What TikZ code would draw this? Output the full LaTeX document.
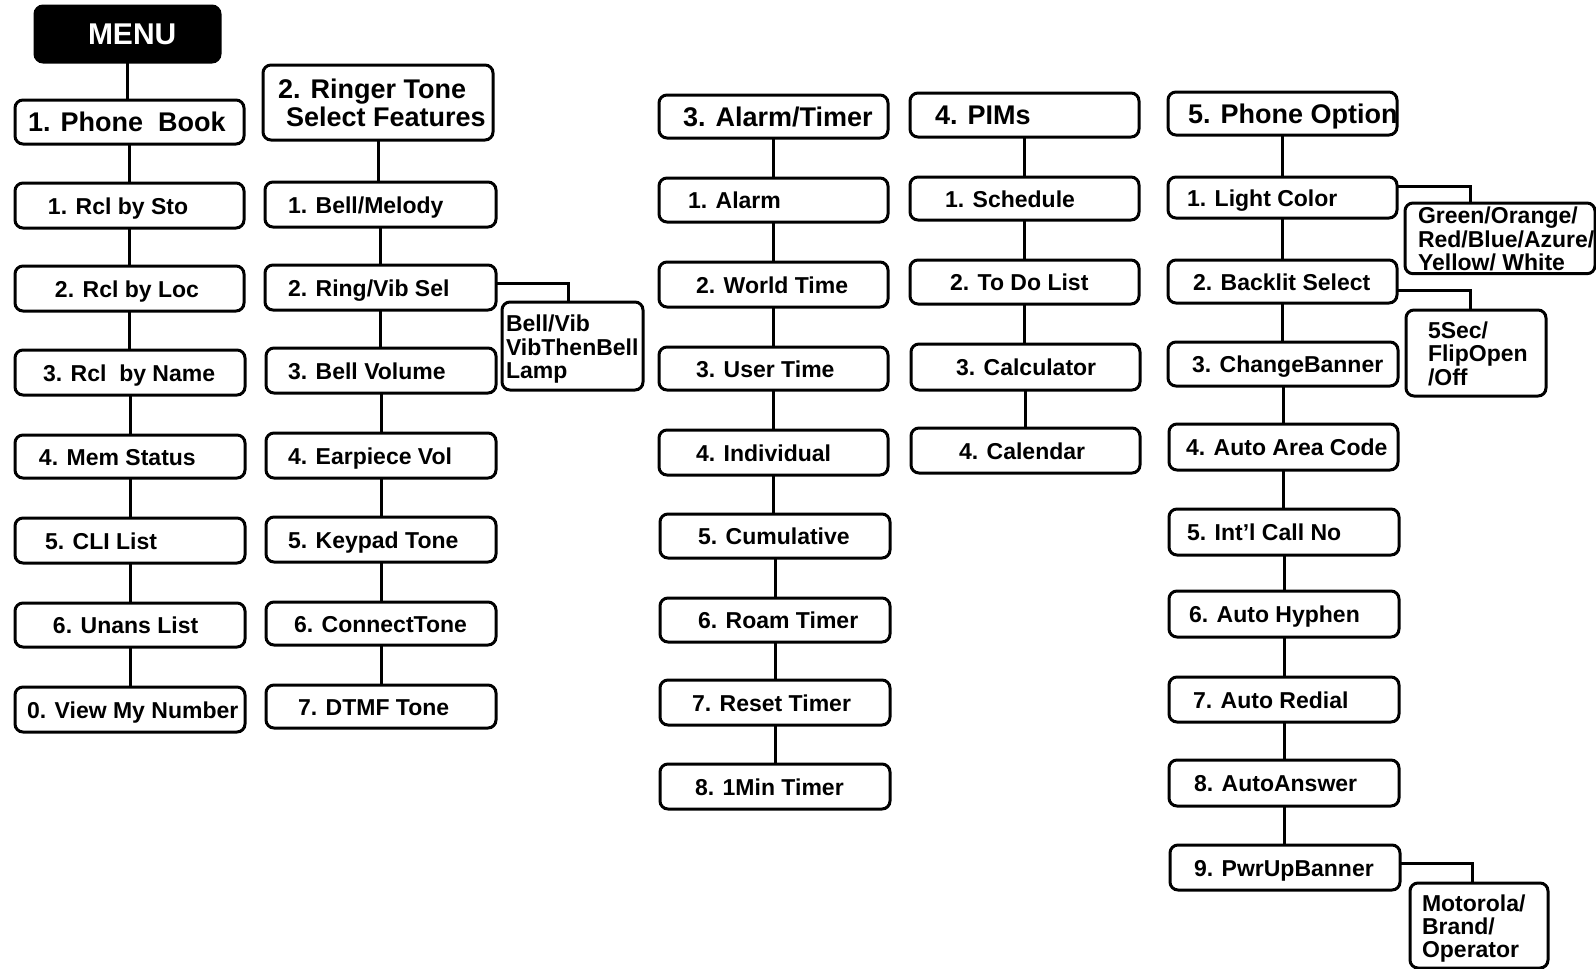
\documentclass[tikz,border=0pt]{standalone}
\usepackage{fontspec}
\setmainfont{Liberation Sans}
\tikzset{
  boxbase/.style={draw, line width=1.5pt, rounded corners=4pt, inner sep=0pt, outer sep=0pt},
  hdr/.style={boxbase, font=\fontsize{13.5}{14}\selectfont\bfseries},
  itm/.style={boxbase, font=\fontsize{11.5}{12}\selectfont\bfseries},
  side/.style={boxbase, font=\fontsize{11.5}{11.5}\selectfont\bfseries},
  menubox/.style={boxbase, fill=black, text=white, font=\fontsize{15}{16}\selectfont\bfseries},
  conn/.style={line width=1.5pt},
}
% #1 style, #2 name, #3 x1, #4 y1, #5 x2, #6 y2, #7 text offset (px), #8 text
\newcommand\mbx[8]{%
  \pgfmathsetmacro\mbxw{(#5-#3)*0.5}%
  \pgfmathsetmacro\mbxh{(#6-#4)*0.5}%
  \pgfmathsetmacro\mbxo{#7*0.5}%
  \node[#1, anchor=north west, minimum width=\mbxw pt, minimum height=\mbxh pt]
    (#2) at (#3,#4) {\makebox[\mbxw pt][l]{\hspace*{\mbxo pt}\raisebox{-2pt}[\height][\depth]{\begin{tabular}{@{}l@{}}#8\end{tabular}}}};%
}
\begin{document}
\begin{tikzpicture}[x=0.5pt, y=-0.5pt]
\useasboundingbox (0,0) rectangle (1596,969);
% column 1
\mbx{menubox}{menu}{35}{6}{220}{62}{53}{MENU}
\mbx{hdr}{pb}{15}{100}{244}{144}{13}{1. Phone~ Book}
\mbx{itm}{c1a}{15}{183}{244}{228}{33}{1. Rcl by Sto}
\mbx{itm}{c1b}{15}{266}{244}{311}{40}{2. Rcl by Loc}
\mbx{itm}{c1c}{15}{350}{245}{395}{28}{3. Rcl~ by Name}
\mbx{itm}{c1d}{15}{435}{245}{478}{24}{4. Mem Status}
\mbx{itm}{c1e}{15}{518}{245}{563}{30}{5. CLI List}
\mbx{itm}{c1f}{15}{603}{245}{647}{38}{6. Unans List}
\mbx{itm}{c1g}{15}{687}{245}{732}{12}{0. View My Number}
% column 2
\mbx{hdr}{rt}{263}{65}{493}{140}{15}{2. Ringer Tone\\\hspace*{4pt}Select Features}
\mbx{itm}{c2a}{265}{182}{496}{227}{23}{1. Bell/Melody}
\mbx{itm}{c2b}{265}{265}{496}{310}{23}{2. Ring/Vib Sel}
\mbx{itm}{c2c}{266}{348}{496}{393}{22}{3. Bell Volume}
\mbx{itm}{c2d}{266}{433}{496}{478}{22}{4. Earpiece Vol}
\mbx{itm}{c2e}{266}{517}{496}{562}{22}{5. Keypad Tone}
\mbx{itm}{c2f}{266}{602}{496}{645}{28}{6. ConnectTone}
\mbx{itm}{c2g}{266}{685}{496}{728}{32}{7. DTMF Tone}
\mbx{side}{bv}{502}{302}{643}{390}{4}{Bell/Vib\\VibThenBell\\Lamp}
% column 3
\mbx{hdr}{at}{659}{95}{888}{138}{24}{3. Alarm/Timer}
\mbx{itm}{c3a}{659}{178}{888}{222}{29}{1. Alarm}
\mbx{itm}{c3b}{659}{262}{888}{307}{37}{2. World Time}
\mbx{itm}{c3c}{659}{347}{888}{390}{37}{3. User Time}
\mbx{itm}{c3d}{659}{430}{888}{475}{37}{4. Individual}
\mbx{itm}{c3e}{660}{514}{890}{558}{38}{5. Cumulative}
\mbx{itm}{c3f}{660}{598}{890}{642}{38}{6. Roam Timer}
\mbx{itm}{c3g}{660}{680}{890}{725}{32}{7. Reset Timer}
\mbx{itm}{c3h}{660}{764}{890}{809}{35}{8. 1Min Timer}
% column 4
\mbx{hdr}{pim}{910}{93}{1139}{137}{25}{4. PIMs}
\mbx{itm}{c4a}{910}{177}{1139}{220}{35}{1. Schedule}
\mbx{itm}{c4b}{910}{260}{1139}{304}{40}{2. To Do List}
\mbx{itm}{c4c}{911}{344}{1140}{390}{45}{3. Calculator}
\mbx{itm}{c4d}{911}{428}{1140}{473}{48}{4. Calendar}
% column 5
\mbx{hdr}{po}{1168}{92}{1397}{135}{20}{5. Phone Option}
\mbx{itm}{c5a}{1168}{177}{1397}{218}{19}{1. Light Color}
\mbx{itm}{c5b}{1168}{260}{1397}{303}{25}{2. Backlit Select}
\mbx{itm}{c5c}{1168}{342}{1398}{386}{24}{3. ChangeBanner}
\mbx{itm}{c5d}{1169}{424}{1398}{470}{17}{4. Auto Area Code}
\mbx{itm}{c5e}{1169}{509}{1399}{555}{18}{5. Int'l Call No}
\mbx{itm}{c5f}{1169}{591}{1399}{637}{20}{6. Auto Hyphen}
\mbx{itm}{c5g}{1169}{677}{1399}{722}{24}{7. Auto Redial}
\mbx{itm}{c5h}{1169}{760}{1399}{806}{25}{8. AutoAnswer}
\mbx{itm}{c5i}{1170}{845}{1400}{890}{24}{9. PwrUpBanner}
\mbx{side}{gr}{1405}{203}{1595}{273}{13}{Green/Orange/\\Red/Blue/Azure/\\Yellow/ White}
\mbx{side}{fs}{1406}{310}{1546}{396}{22}{5Sec/\\FlipOpen\\/Off}
\mbx{side}{mo}{1410}{883}{1548}{968}{12}{Motorola/\\Brand/\\Operator}
% vertical connectors
\foreach \a/\b in {menu/pb, pb/c1a, c1a/c1b, c1b/c1c, c1c/c1d, c1d/c1e, c1e/c1f, c1f/c1g,
  rt/c2a, c2a/c2b, c2b/c2c, c2c/c2d, c2d/c2e, c2e/c2f, c2f/c2g,
  at/c3a, c3a/c3b, c3b/c3c, c3c/c3d, c3d/c3e, c3e/c3f, c3f/c3g, c3g/c3h,
  pim/c4a, c4a/c4b, c4b/c4c, c4c/c4d,
  po/c5a, c5a/c5b, c5b/c5c, c5c/c5d, c5d/c5e, c5e/c5f, c5f/c5g, c5g/c5h, c5h/c5i}
  {\draw[conn] (\a.south) -- (\a.south |- \b.north);}
% side connectors
\coordinate (k1) at (568,283);
\coordinate (k2) at (1470,186);
\coordinate (k3) at (1470,290);
\coordinate (k4) at (1472,863);
\draw[conn] (c2b.east |- k1) -| (bv.north -| k1);
\draw[conn] (c5a.east |- k2) -| (gr.north -| k2);
\draw[conn] (c5b.east |- k3) -| (fs.north -| k3);
\draw[conn] (c5i.east |- k4) -| (mo.north -| k4);
\end{tikzpicture}
\end{document}
